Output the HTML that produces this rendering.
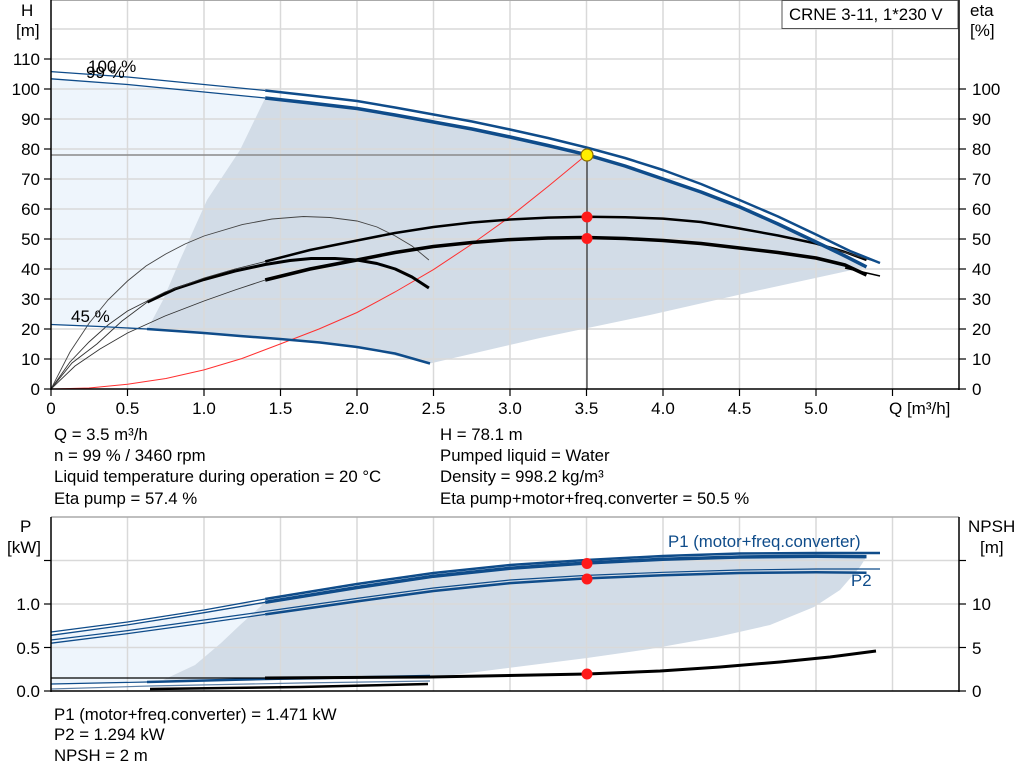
<!DOCTYPE html>
<html><head><meta charset="utf-8"><style>
html,body{margin:0;padding:0;background:#fff;}
svg{display:block;font-family:"Liberation Sans",Arial,sans-serif;}
</style></head><body>
<svg width="1024" height="781" viewBox="0 0 1024 781" xmlns="http://www.w3.org/2000/svg">
<polygon fill="#eef5fc" points="51,78.8 127.5,84.5 204,92 265.2,98 240,150 207,200 180,260 163,300 147,330 51,324.5"/>
<polygon fill="#d2dce7" points="265.2,98 357,108.5 433.5,122 510,137 586.5,154.7 663,179 739.5,206.9 816,242 866.5,266.9 760,290 650,315 540,338 430,363.5 357,347 280,339 204,333 147,330 163,300 180,260 207,200 240,150"/>
<g stroke="#d9d9d9" stroke-width="1.5">
<line x1="127.5" y1="0" x2="127.5" y2="389"/><line x1="204" y1="0" x2="204" y2="389"/><line x1="280.5" y1="0" x2="280.5" y2="389"/><line x1="357" y1="0" x2="357" y2="389"/><line x1="433.5" y1="0" x2="433.5" y2="389"/><line x1="510" y1="0" x2="510" y2="389"/><line x1="586.5" y1="0" x2="586.5" y2="389"/><line x1="663" y1="0" x2="663" y2="389"/><line x1="739.5" y1="0" x2="739.5" y2="389"/><line x1="816" y1="0" x2="816" y2="389"/><line x1="892.5" y1="0" x2="892.5" y2="389"/>
<line x1="51" y1="29" x2="959" y2="29"/><line x1="51" y1="59" x2="959" y2="59"/><line x1="51" y1="89" x2="959" y2="89"/><line x1="51" y1="119" x2="959" y2="119"/><line x1="51" y1="149" x2="959" y2="149"/><line x1="51" y1="179" x2="959" y2="179"/><line x1="51" y1="209" x2="959" y2="209"/><line x1="51" y1="239" x2="959" y2="239"/><line x1="51" y1="269" x2="959" y2="269"/><line x1="51" y1="299" x2="959" y2="299"/><line x1="51" y1="329" x2="959" y2="329"/><line x1="51" y1="359" x2="959" y2="359"/>
</g>
<line x1="51" y1="0.5" x2="959" y2="0.5" stroke="#aaa" stroke-width="1"/>
<line x1="51" y1="155" x2="587" y2="155" stroke="#8a8a8a" stroke-width="1.5"/>
<line x1="587" y1="155" x2="587" y2="389" stroke="#000" stroke-width="1"/>
<polyline fill="none" stroke="#ff3030" stroke-width="1" points="51,389 89,388 127.5,384.2 166,378.5 204,369.9 242,358.5 280.5,343.9 319,329 357,312.5 395,292 433.5,269.6 472,244 510,216.8 548,186.5 586.5,154.7"/>
<polyline fill="none" stroke="#444" stroke-width="0.9" points="51,389 70,352 89.25,323 108,300 127.5,281 146,266 165.75,254 185,244 204,236 242.25,224.6 272,219 303.45,216.5 330,217.5 357,221 377,227 395.25,236 412,246 428.9,260"/>
<polyline fill="none" stroke="#333" stroke-width="0.9" points="51,389 72,363 96.9,344 122,321 147.4,302"/>
<polyline fill="none" stroke="#000" stroke-width="3" stroke-linejoin="round" points="147.4,302 175,289 204,279.5 235,271 265.2,264.5 290,260.5 311.1,258.5 335,258.5 357,260 377,263.5 395.25,269 412,277 428.9,288"/>
<polyline fill="none" stroke="#333" stroke-width="0.9" points="51,389 70,362 89,342 108,325 127.5,311 165,292 204,278 235,269 265.2,261.5"/>
<polyline fill="none" stroke="#000" stroke-width="2.5" stroke-linejoin="round" points="265.2,261.5 310,250 357,240.5 395,233 433.5,227 472,222.5 510,219.5 548,217.6 586.5,216.8 625,217.2 663,218.6 701,222 739.5,228.5 778,235.5 816,243.5 845,252 866.5,260"/>
<polyline fill="none" stroke="#333" stroke-width="1" points="816,243 850,254 877,262"/>
<polyline fill="none" stroke="#333" stroke-width="0.9" points="51,389 75,366 100,349 127.5,333 165,316 204,301 235,290 265.2,280"/>
<polyline fill="none" stroke="#000" stroke-width="3.5" stroke-linejoin="round" points="265.2,280 310,269 357,260 395,252.5 433.5,246.5 472,242.5 510,239.6 548,238 586.5,237.5 625,238.5 663,240.5 701,243.5 739.5,248 778,252.5 816,258 845,265 866.5,275"/>
<polyline fill="none" stroke="#000" stroke-width="1.5" points="845,268 880,276"/>
<polyline fill="none" stroke="#0f4c8a" stroke-width="1.3" points="51,71.6 127.5,77 204,84.5 265.2,90.5"/>
<polyline fill="none" stroke="#0f4c8a" stroke-width="2.5" stroke-linejoin="round" points="265.2,90.5 310,95.5 357,101 395,107.5 433.5,114.5 472,121.5 510,129.5 548,138 586.5,147.5 625,158 663,170 701,184 739.5,200 778,216.5 816,234.5 850,251 880,263"/>
<polyline fill="none" stroke="#0f4c8a" stroke-width="1.3" points="51,78.8 127.5,84.5 204,92 265.2,98"/>
<polyline fill="none" stroke="#0f4c8a" stroke-width="3.5" stroke-linejoin="round" points="265.2,98 310,103 357,108.5 395,115 433.5,122 472,129 510,137 548,145.5 586.5,154.7 625,166 663,179 701,192 739.5,206.9 778,224 816,242 845,256 866.5,266.9"/>
<polyline fill="none" stroke="#0f4c8a" stroke-width="1.3" points="51,324.5 100,326.5 147,329"/>
<polyline fill="none" stroke="#0f4c8a" stroke-width="2.5" stroke-linejoin="round" points="147,329 204,333 240,336 280,339 320,342.5 357,347 395,353.5 430,363.5"/>
<circle cx="587" cy="155" r="6" fill="#ffee00" stroke="#8a6a00" stroke-width="1.2"/>
<circle cx="587" cy="217" r="5.5" fill="#ff1a1a"/>
<circle cx="587" cy="238.5" r="5.5" fill="#ff1a1a"/>
<g stroke="#000" stroke-width="1.5">
<line x1="51" y1="0" x2="51" y2="390"/><line x1="959" y1="0" x2="959" y2="390"/><line x1="51" y1="389" x2="959" y2="389"/>
</g>
<g stroke="#000" stroke-width="1.2">
<line x1="44" y1="389" x2="51" y2="389"/><line x1="44" y1="359" x2="51" y2="359"/><line x1="44" y1="329" x2="51" y2="329"/><line x1="44" y1="299" x2="51" y2="299"/><line x1="44" y1="269" x2="51" y2="269"/><line x1="44" y1="239" x2="51" y2="239"/><line x1="44" y1="209" x2="51" y2="209"/><line x1="44" y1="179" x2="51" y2="179"/><line x1="44" y1="149" x2="51" y2="149"/><line x1="44" y1="119" x2="51" y2="119"/><line x1="44" y1="89" x2="51" y2="89"/><line x1="44" y1="59" x2="51" y2="59"/>
<line x1="959" y1="389" x2="966" y2="389"/><line x1="959" y1="359" x2="966" y2="359"/><line x1="959" y1="329" x2="966" y2="329"/><line x1="959" y1="299" x2="966" y2="299"/><line x1="959" y1="269" x2="966" y2="269"/><line x1="959" y1="239" x2="966" y2="239"/><line x1="959" y1="209" x2="966" y2="209"/><line x1="959" y1="179" x2="966" y2="179"/><line x1="959" y1="149" x2="966" y2="149"/><line x1="959" y1="119" x2="966" y2="119"/><line x1="959" y1="89" x2="966" y2="89"/>
<line x1="51" y1="389" x2="51" y2="396"/><line x1="127.5" y1="389" x2="127.5" y2="396"/><line x1="204" y1="389" x2="204" y2="396"/><line x1="280.5" y1="389" x2="280.5" y2="396"/><line x1="357" y1="389" x2="357" y2="396"/><line x1="433.5" y1="389" x2="433.5" y2="396"/><line x1="510" y1="389" x2="510" y2="396"/><line x1="586.5" y1="389" x2="586.5" y2="396"/><line x1="663" y1="389" x2="663" y2="396"/><line x1="739.5" y1="389" x2="739.5" y2="396"/><line x1="816" y1="389" x2="816" y2="396"/><line x1="892.5" y1="389" x2="892.5" y2="396"/>
</g>
<g font-size="17" fill="#000" text-anchor="end">
<text x="40" y="395">0</text><text x="40" y="365">10</text><text x="40" y="335">20</text><text x="40" y="305">30</text><text x="40" y="275">40</text><text x="40" y="245">50</text><text x="40" y="215">60</text><text x="40" y="185">70</text><text x="40" y="155">80</text><text x="40" y="125">90</text><text x="40" y="95">100</text><text x="40" y="65">110</text>
</g>
<g font-size="17" fill="#000">
<text x="972" y="395">0</text><text x="972" y="365">10</text><text x="972" y="335">20</text><text x="972" y="305">30</text><text x="972" y="275">40</text><text x="972" y="245">50</text><text x="972" y="215">60</text><text x="972" y="185">70</text><text x="972" y="155">80</text><text x="972" y="125">90</text><text x="972" y="95">100</text>
<text x="21" y="16">H</text><text x="16" y="36">[m]</text>
<text x="970" y="16">eta</text><text x="970" y="36">[%]</text>
<text x="889" y="414">Q [m³/h]</text>
<text x="88" y="72">100 %</text><text x="86" y="78">99 %</text><text x="71" y="322">45 %</text>
</g>
<g font-size="17" fill="#000" text-anchor="middle">
<text x="51" y="414">0</text><text x="127.5" y="414">0.5</text><text x="204" y="414">1.0</text><text x="280.5" y="414">1.5</text><text x="357" y="414">2.0</text><text x="433.5" y="414">2.5</text><text x="510" y="414">3.0</text><text x="586.5" y="414">3.5</text><text x="663" y="414">4.0</text><text x="739.5" y="414">4.5</text><text x="816" y="414">5.0</text>
</g>
<rect x="782" y="0.5" width="176" height="28" fill="#fff" stroke="#555" stroke-width="1"/>
<text x="789" y="20" font-size="16.8">CRNE 3-11, 1*230 V</text>
<g font-size="16.8" fill="#000">
<text x="54" y="440">Q = 3.5 m³/h</text>
<text x="54" y="461">n = 99 % / 3460 rpm</text>
<text x="54" y="482">Liquid temperature during operation = 20 °C</text>
<text x="54" y="504">Eta pump = 57.4 %</text>
<text x="440" y="440">H = 78.1 m</text>
<text x="440" y="461">Pumped liquid = Water</text>
<text x="440" y="482">Density = 998.2 kg/m³</text>
<text x="440" y="504">Eta pump+motor+freq.converter = 50.5 %</text>
</g>
<polygon fill="#eef5fc" points="51,635.3 127.5,624.9 204,612.7 265.2,602.3 240,625 221,643 195,665 163,680 51,685"/>
<polygon fill="#d2dce7" points="265.2,602.3 310,594 357,587.5 433.5,576.2 510,568.3 586.5,563 663,559.2 739.5,557 816,556.2 866.5,556.6 860,567 840,590 814,607 770,625 717,637 650,649 587,658 500,669 430,678 300,680 163,680 195,665 221,643 240,625"/>
<g stroke="#d9d9d9" stroke-width="1.5">
<line x1="127.5" y1="517" x2="127.5" y2="691"/><line x1="204" y1="517" x2="204" y2="691"/><line x1="280.5" y1="517" x2="280.5" y2="691"/><line x1="357" y1="517" x2="357" y2="691"/><line x1="433.5" y1="517" x2="433.5" y2="691"/><line x1="510" y1="517" x2="510" y2="691"/><line x1="586.5" y1="517" x2="586.5" y2="691"/><line x1="663" y1="517" x2="663" y2="691"/><line x1="739.5" y1="517" x2="739.5" y2="691"/><line x1="816" y1="517" x2="816" y2="691"/><line x1="892.5" y1="517" x2="892.5" y2="691"/>
<line x1="51" y1="560.5" x2="959" y2="560.5"/><line x1="51" y1="604" x2="959" y2="604"/><line x1="51" y1="647.5" x2="959" y2="647.5"/>
</g>
<line x1="51" y1="517" x2="959" y2="517" stroke="#aaa" stroke-width="1.5"/>
<polyline fill="none" stroke="#0f4c8a" stroke-width="1.3" points="51,632 127.5,622 204,610 265.2,599"/>
<polyline fill="none" stroke="#0f4c8a" stroke-width="2.5" points="265.2,599 357,584 433.5,573 510,565 586.5,560 663,556 739.5,553.5 816,553 880,553"/>
<polyline fill="none" stroke="#0f4c8a" stroke-width="1.3" points="51,635.3 127.5,624.9 204,612.7 265.2,602.3"/>
<polyline fill="none" stroke="#0f4c8a" stroke-width="3.5" points="265.2,602.3 357,587.5 433.5,576.2 510,568.3 586.5,563 663,559.2 739.5,557 816,556.2 866.5,556.6"/>
<polyline fill="none" stroke="#0f4c8a" stroke-width="1.2" points="51,640 127.5,630.6 204,620 265.2,611.4 357,598.4 433.5,588 510,580 586.5,575.4 663,572.3 739.5,570 816,569 880,569"/>
<polyline fill="none" stroke="#0f4c8a" stroke-width="1.3" points="51,643.2 127.5,633.6 204,623.1 265.2,614.4"/>
<polyline fill="none" stroke="#0f4c8a" stroke-width="2.5" points="265.2,614.4 357,601.4 433.5,591 510,583.1 586.5,578.4 663,575.3 739.5,573 816,572.2 866.5,572.7"/>
<polyline fill="none" stroke="#0f4c8a" stroke-width="1.2" points="51,684 147,682"/>
<polyline fill="none" stroke="#0f4c8a" stroke-width="2.5" points="147,682 265,679 430,676"/>
<polyline fill="none" stroke="#5c7fa6" stroke-width="1.2" points="51,689 150,686 300,683 430,681"/>
<polyline fill="none" stroke="#000" stroke-width="1.3" points="51,678 265,678"/>
<polyline fill="none" stroke="#000" stroke-width="3" stroke-linejoin="round" points="265,678 430,677 587,674 660,671 720,667 780,662 830,657 876,651"/>
<polyline fill="none" stroke="#000" stroke-width="2.5" points="150,689 300,687 428,684"/>
<circle cx="587" cy="563.5" r="5.5" fill="#ff1a1a"/>
<circle cx="587" cy="579" r="5.5" fill="#ff1a1a"/>
<circle cx="587" cy="674" r="5.5" fill="#ff1a1a"/>
<g stroke="#000" stroke-width="1.5">
<line x1="51" y1="517" x2="51" y2="692"/><line x1="959" y1="517" x2="959" y2="692"/><line x1="51" y1="691" x2="959" y2="691"/>
</g>
<g stroke="#000" stroke-width="1.2">
<line x1="44" y1="691" x2="51" y2="691"/><line x1="44" y1="647.5" x2="51" y2="647.5"/><line x1="44" y1="604" x2="51" y2="604"/><line x1="44" y1="560.5" x2="51" y2="560.5"/>
<line x1="959" y1="691" x2="966" y2="691"/><line x1="959" y1="647.5" x2="966" y2="647.5"/><line x1="959" y1="604" x2="966" y2="604"/><line x1="959" y1="560.5" x2="966" y2="560.5"/>
</g>
<g font-size="17" fill="#000" text-anchor="end">
<text x="40" y="697">0.0</text><text x="40" y="654">0.5</text><text x="40" y="610">1.0</text>
</g>
<g font-size="17" fill="#000">
<text x="972" y="697">0</text><text x="972" y="654">5</text><text x="972" y="610">10</text>
<text x="20" y="532">P</text><text x="7" y="553">[kW]</text>
<text x="968" y="532">NPSH</text><text x="980" y="553">[m]</text>
</g>
<text x="668" y="547" font-size="16.8" fill="#0f4c8a">P1 (motor+freq.converter)</text>
<text x="851" y="586" font-size="16.8" fill="#0f4c8a">P2</text>
<g font-size="16.8" fill="#000">
<text x="54" y="720">P1 (motor+freq.converter) = 1.471 kW</text>
<text x="54" y="740">P2 = 1.294 kW</text>
<text x="54" y="761">NPSH = 2 m</text>
</g>
</svg>
</body></html>
